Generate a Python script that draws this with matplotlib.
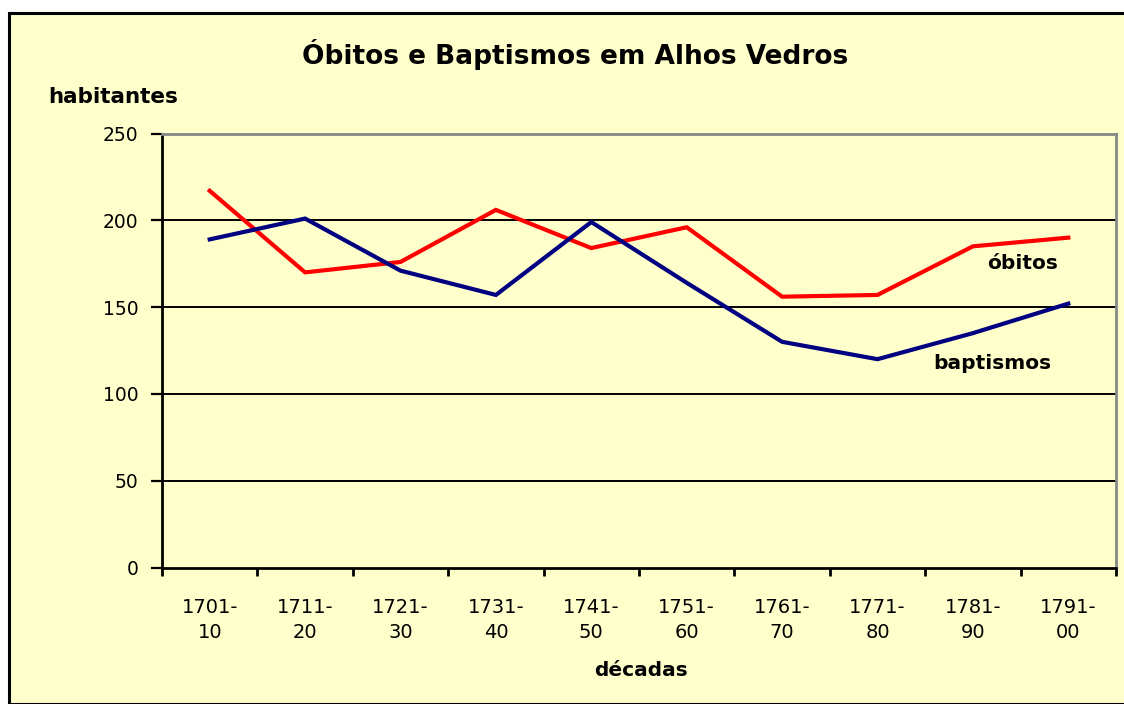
import matplotlib
matplotlib.use("Agg")
import matplotlib.pyplot as plt
from matplotlib.patches import Rectangle

decadas = ["1701-\n10", "1711-\n20", "1721-\n30", "1731-\n40", "1741-\n50",
           "1751-\n60", "1761-\n70", "1771-\n80", "1781-\n90", "1791-\n00"]
obitos = [217, 170, 176, 206, 184, 196, 156, 157, 185, 190]
baptismos = [189, 201, 171, 157, 199, 164, 130, 120, 135, 152]
y_ticks = [0, 50, 100, 150, 200, 250]

bg = "#FFFFCC"
fig = plt.figure(figsize=(11.24, 7.04), dpi=100)
fig.patch.set_facecolor("white")
# chart area rectangle with black border (left/top visible)
fig.patches.append(Rectangle((9/1124, 0), 1.2, 1 - 13/704, transform=fig.transFigure,
                             facecolor=bg, edgecolor="black", linewidth=2.2, zorder=-5))

ax = fig.add_axes([162/1124, 1 - 567.5/704, (1116 - 162)/1124, (567.5 - 133.5)/704])
ax.set_zorder(2)
ax.set_facecolor(bg)
x = list(range(len(decadas)))
ax.plot(x, obitos, color="#FF0000", lw=3.0, zorder=3, solid_joinstyle="miter")
ax.plot(x, baptismos, color="#000080", lw=3.0, zorder=3, solid_joinstyle="miter")

ax.set_xlim(-0.5, len(decadas) - 0.5)
ax.set_ylim(0, 250)
ax.set_yticks(y_ticks)
ax.set_yticklabels([str(v) for v in y_ticks], fontsize=13.5)
for v in y_ticks[1:-1]:
    ax.axhline(v, color="black", lw=1.4, zorder=1)

ax.set_xticks([i - 0.5 for i in range(len(decadas) + 1)])
ax.set_xticklabels([])
ax.set_xticks(x, minor=True)
ax.set_xticklabels(decadas, minor=True, fontsize=14, linespacing=1.4)
ax.tick_params(axis="x", which="minor", length=0, pad=22)
ax.tick_params(axis="x", which="major", length=6, width=2, direction="out")
ax.tick_params(axis="y", length=8, width=1.6, direction="out", pad=9)

for s in ["left", "bottom"]:
    ax.spines[s].set_color("black")
    ax.spines[s].set_linewidth(2)
for s in ["top", "right"]:
    ax.spines[s].set_color("#888888")
    ax.spines[s].set_linewidth(2)

fig.text(575/1124, 1 - 55/704, "Óbitos e Baptismos em Alhos Vedros", ha="center", va="center",
         fontsize=19, fontweight="bold")
fig.text(48/1124, 1 - 97/704, "habitantes", ha="left", va="center", fontsize=15.5, fontweight="bold")
fig.text(641/1124, 1 - 670/704, "décadas", ha="center", va="center", fontsize=14.5, fontweight="bold")

ax.text(8.52, 175, "óbitos", ha="center", va="center", fontsize=14.5, fontweight="bold")
ax.text(8.2, 117.5, "baptismos", ha="center", va="center", fontsize=14.5, fontweight="bold")

fig.savefig("out.png", dpi=100, facecolor=fig.get_facecolor())
